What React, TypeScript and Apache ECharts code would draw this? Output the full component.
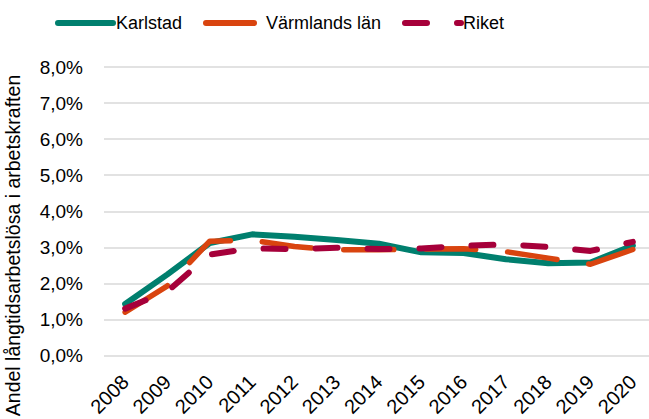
import React, { useEffect, useRef } from "react";
import * as echarts from "echarts";

const years = ["2008", "2009", "2010", "2011", "2012", "2013", "2014", "2015", "2016", "2017", "2018", "2019", "2020"];
const karlstad = [1.43, 2.25, 3.12, 3.36, 3.29, 3.2, 3.1, 2.86, 2.84, 2.67, 2.56, 2.58, 3.05];
const varmland = [1.2, 1.93, 3.17, 3.2, 3.02, 2.93, 2.93, 2.95, 2.96, 2.88, 2.7, 2.53, 2.94];
const riket = [1.3, 1.78, 2.8, 2.97, 2.95, 2.99, 2.95, 2.97, 3.04, 3.08, 3.01, 2.9, 3.15];
const yTicks = [0, 1, 2, 3, 4, 5, 6, 7, 8];
const yTitle = "Andel långtidsarbetslösa i arbetskraften";

const FONT = "Liberation Sans";

export default function App() {
  const ref = useRef<HTMLDivElement>(null);
  useEffect(() => {
    if (!ref.current) return;
    const chart = echarts.init(ref.current, undefined, { renderer: "svg" });
    const fmt = (v: number) => v.toFixed(1).replace(".", ",") + "%";
    const legendCommon = {
      top: 14,
      padding: 0,
      itemHeight: 6,
      itemStyle: { opacity: 0 },
      lineStyle: { width: 6, cap: "round" },
    };
    chart.setOption({
      animation: false,
      textStyle: { fontFamily: FONT },
      legend: [
        {
          ...legendCommon, data: ["Karlstad"], left: 55, itemWidth: 55,
          textStyle: { fontFamily: FONT, fontSize: 18, color: "#000", padding: [0, 0, 0, -2] },
        },
        {
          ...legendCommon, data: ["Värmlands län"], left: 203, itemWidth: 48,
          textStyle: { fontFamily: FONT, fontSize: 18, color: "#000", padding: [0, 0, 0, 7] },
        },
        {
          ...legendCommon, data: ["Riket"], left: 402, itemWidth: 56,
          textStyle: { fontFamily: FONT, fontSize: 18, color: "#000", padding: [0, 0, 0, -3] },
        },
      ],
      grid: { left: 104, right: -5, top: 67, bottom: 63.5, containLabel: false, outerBoundsMode: "none" },
      graphic: [
        {
          type: "text", x: 13, y: 245.5, rotation: Math.PI / 2,
          style: { text: yTitle, fontSize: 19.5, fill: "#000", fontFamily: FONT, align: "center", verticalAlign: "middle" },
        },
      ],
      xAxis: {
        type: "category",
        data: years,
        boundaryGap: true,
        axisLine: { show: false },
        axisTick: { show: false },
        axisLabel: { rotate: 45, fontSize: 20, color: "#000", fontFamily: FONT, margin: 23, interval: 0 },
      },
      yAxis: {
        type: "value",
        min: yTicks[0],
        max: yTicks[yTicks.length - 1],
        interval: 1,
        axisLine: { show: false },
        axisTick: { show: false },
        axisLabel: { formatter: fmt, fontSize: 19, color: "#000", fontFamily: FONT, margin: 21 },
        splitLine: { lineStyle: { color: "#d9d9d9", width: 1.5 } },
      },
      series: [
        {
          name: "Karlstad", type: "line", data: karlstad, symbol: "none", z: 2,
          lineStyle: { color: "#007f6e", width: 6, cap: "round", join: "round" },
          itemStyle: { color: "#007f6e" },
        },
        {
          name: "Värmlands län", type: "line", data: varmland, symbol: "none", z: 3,
          lineStyle: { color: "#d9440f", width: 5.5, type: [50, 32], cap: "round", join: "round" },
          itemStyle: { color: "#d9440f" },
        },
        {
          name: "Riket", type: "line", data: riket, symbol: "none", z: 4,
          lineStyle: { color: "#a6003a", width: 6, type: [22, 30], cap: "round", join: "round" },
          itemStyle: { color: "#a6003a" },
        },
      ],
    });
    return () => chart.dispose();
  }, []);
  return <div ref={ref} style={{ width: 649, height: 419, position: "absolute", left: 0, top: 0 }} />;
}
